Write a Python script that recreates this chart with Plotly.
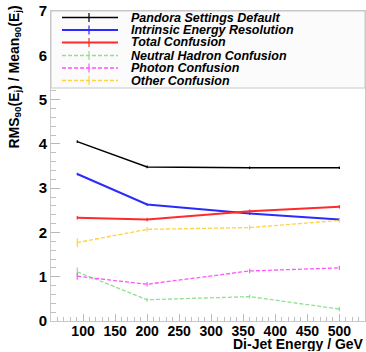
import plotly.graph_objects as go

# ---------------- data ----------------
energies = [91, 200, 360, 500]

series_names = [
    "Pandora Settings Default",
    "Intrinsic Energy Resolution",
    "Total Confusion",
    "Neutral Hadron Confusion",
    "Photon Confusion",
    "Other Confusion",
]

default_vals = [4.05, 3.48, 3.46, 3.46]
intrinsic_vals = [3.32, 2.63, 2.43, 2.29]
total_conf_vals = [2.33, 2.29, 2.48, 2.58]
neutral_conf_vals = [1.11, 0.48, 0.55, 0.27]
photon_conf_vals = [1.01, 0.83, 1.13, 1.20]
other_conf_vals = [1.77, 2.07, 2.11, 2.27]

default_err = [0.03, 0.03, 0.03, 0.03]
intrinsic_err = [0.03, 0.03, 0.03, 0.03]
total_conf_err = [0.04, 0.04, 0.04, 0.04]
neutral_conf_err = [0.10, 0.04, 0.04, 0.05]
photon_conf_err = [0.08, 0.05, 0.05, 0.05]
other_conf_err = [0.10, 0.05, 0.05, 0.05]

x_tickvals = [100, 150, 200, 250, 300, 350, 400, 450, 500]
y_tickvals = [0, 1, 2, 3, 4, 5, 6, 7]

# ---------------- styles ----------------
values = [default_vals, intrinsic_vals, total_conf_vals,
          neutral_conf_vals, photon_conf_vals, other_conf_vals]
errors = [default_err, intrinsic_err, total_conf_err,
          neutral_conf_err, photon_conf_err, other_conf_err]
colors = ["#000000", "#2a2aff", "#ff2a2a", "#8fe08f", "#ff55ff", "#ffd23f"]
widths = [1.5, 2.0, 2.0, 1.3, 1.3, 1.3]
dashes = ["solid", "solid", "solid", "4px,2px", "4px,2px", "4px,2px"]

FONT = "Liberation Sans, Arial, Helvetica, sans-serif"

fig = go.Figure()
for name, vals, errs, c, w, d in zip(series_names, values, errors, colors, widths, dashes):
    fig.add_trace(go.Scatter(
        x=energies, y=vals, name=name, mode="lines",
        line=dict(color=c, width=w, dash=d),
        error_y=dict(type="data", array=errs, visible=True,
                     color=c, thickness=1.2, width=0),
        showlegend=False,
    ))

W, H = 366, 352
ml, mr, mt, mb = 51, 1, 11, 31
pw, ph = W - ml - mr, H - mt - mb

fig.update_layout(
    width=W, height=H,
    margin=dict(l=ml, r=mr, t=mt, b=mb),
    paper_bgcolor="white", plot_bgcolor="white",
    font=dict(family=FONT, color="black"),
    xaxis=dict(
        range=[50, 540], tickvals=x_tickvals,
        ticks="inside", ticklen=7, tickwidth=1, tickcolor="#b8b8b8",
        showgrid=False, zeroline=False,
        showline=True, mirror=True, linecolor="#c8c8c8", linewidth=1,
        ticklabelstandoff=-3,
        tickfont=dict(family=FONT, size=14, color="black", weight="bold"),
        minor=dict(dtick=10, ticks="inside", ticklen=4, tickcolor="#c0c0c0", showgrid=False),
    ),
    yaxis=dict(
        range=[0, 7], tickvals=y_tickvals,
        ticks="inside", ticklen=9, tickwidth=1, tickcolor="#b8b8b8",
        showgrid=False, zeroline=False,
        showline=True, mirror=True, linecolor="#c8c8c8", linewidth=1,
        tickfont=dict(family=FONT, size=15, color="black", weight="bold"),
        minor=dict(dtick=0.2, ticks="inside", ticklen=5, tickcolor="#c0c0c0", showgrid=False),
    ),
)

def py(px):
    return (mt + ph - px) / ph
def pxx(px):
    return (px - ml) / pw

# axis titles
fig.add_annotation(
    text="Di-Jet Energy / GeV", xref="paper", yref="paper",
    x=1.0, y=py(352), xanchor="right", yanchor="bottom",
    height=14, valign="middle", borderpad=0,
    showarrow=False, font=dict(family=FONT, size=14, color="black", weight="bold"),
)
fig.add_annotation(
    text="RMS<sub>90</sub>(E<sub>j</sub>) / Mean<sub>90</sub>(E<sub>j</sub>)",
    xref="paper", yref="paper", textangle=-90,
    x=pxx(14), y=py(4), xanchor="center", yanchor="top",
    showarrow=False, font=dict(family=FONT, size=14, color="black", weight="bold"),
)

# legend box (drawn in pixel-derived paper coordinates)
leg_bot_px = 88
fig.add_shape(type="rect", xref="paper", yref="paper",
              x0=0, x1=1, y0=py(leg_bot_px), y1=1,
              fillcolor="#fbfbfb", line=dict(color="#c8c8c8", width=1), layer="above")

row_y = [17.5, 30.0, 42.5, 55.5, 68.0, 80.5]
for name, c, w, d, ry in zip(series_names, colors, widths, dashes, row_y):
    fig.add_shape(type="line", xref="paper", yref="paper",
                  x0=pxx(62), x1=pxx(118), y0=py(ry), y1=py(ry),
                  line=dict(color=c, width=w, dash=d), layer="above")
    fig.add_shape(type="line", xref="paper", yref="paper",
                  x0=pxx(89), x1=pxx(89), y0=py(ry - 4.5), y1=py(ry + 4.5),
                  line=dict(color=c, width=1.2), layer="above")
    fig.add_annotation(text=f"<i>{name}</i>", xref="paper", yref="paper",
                       x=pxx(129), y=py(ry), xanchor="left", yanchor="middle",
                       showarrow=False,
                       font=dict(family=FONT, size=12.5, color="black", weight="bold"))

fig.write_html("out.html")
